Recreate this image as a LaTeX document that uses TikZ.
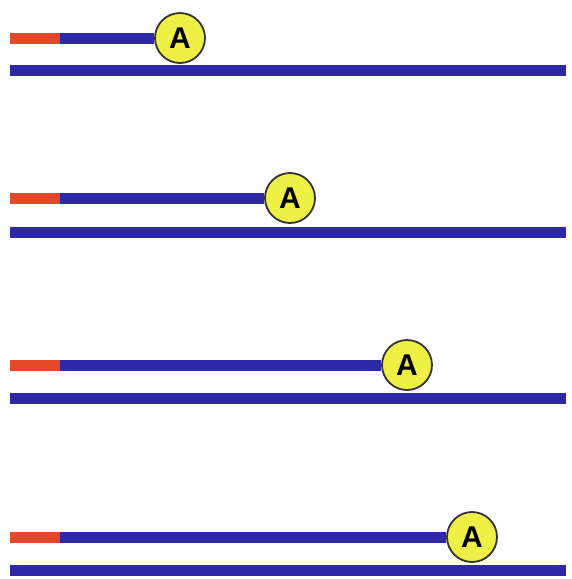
\documentclass[tikz,border=0pt]{standalone}
\usepackage{fontspec}
\setmainfont{Liberation Sans}
\definecolor{strandblue}{RGB}{45,40,165}
\definecolor{primerred}{RGB}{228,72,40}
\definecolor{polyyellow}{RGB}{238,240,70}
\begin{document}
\begin{tikzpicture}[x=1pt,y=-1pt,
  strand/.style={line width=11pt,strandblue},
  primer/.style={line width=11pt,primerred},
  enzyme/.style={circle,draw=black!80,line width=1.8pt,fill=polyyellow,minimum size=50pt,inner sep=0pt,font=\bfseries\fontsize{30}{30}\selectfont}]
\useasboundingbox (0,0) rectangle (572,579);
\fill[white] (0,0) rectangle (572,579);
\foreach \i/\yt/\yb/\xc in {1/38/70/180, 2/198/232/290, 3/365/398/407, 4/537/570/472}{
  \coordinate (s\i) at (10,\yt);
  \coordinate (p\i) at (60,\yt);
  \coordinate (l\i) at (10,\yb);
  \coordinate (r\i) at (566,\yb);
  \draw[strand] (l\i) -- (r\i);
  \draw[primer] (s\i) -- (p\i);
  \node[enzyme] (a\i) at (\xc,\yt) {A};
  \draw[strand] (p\i) -- (a\i.west);
}
\end{tikzpicture}
\end{document}
